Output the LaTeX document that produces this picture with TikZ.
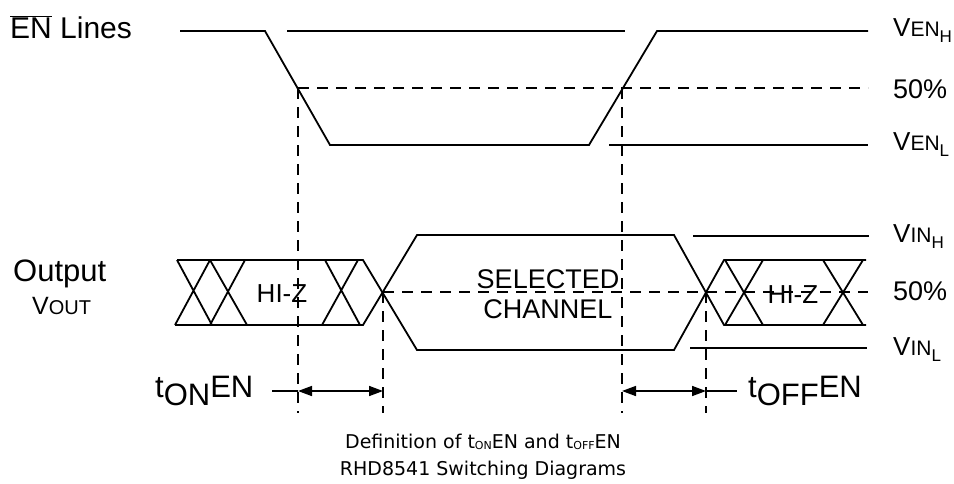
\documentclass[tikz,border=0pt]{standalone}
\usepackage{fontspec}
\setmainfont{Liberation Sans}
\newfontfamily\capfont{DejaVu Sans}
\usetikzlibrary{arrows.meta}
\newcommand\szf[1]{\fontsize{#1}{#1}\selectfont}
\newcommand\vlab[3]{{\szf{26}#1}{\szf{21}#2}\raisebox{-6pt}{\szf{17}#3}}
\begin{document}
\begin{tikzpicture}[x=1pt,y=-1pt,
  sig/.style={line width=1.8pt, line join=miter},
  dsh/.style={line width=1.3pt, dash pattern=on 11pt off 8pt},
  txt/.style={inner sep=0pt, anchor=base west},
  ctxt/.style={inner sep=0pt, anchor=base},
  tip/.style={line width=1.6pt, {Triangle[length=14pt,width=10pt]}-{Triangle[length=14pt,width=10pt]}}
]
\useasboundingbox (0,0) rectangle (954,483);

% ---- EN lines ----
\draw[sig] (180,31) -- (265,31) -- (330,145) -- (589,145) -- (657,31) -- (868,31);
\draw[sig] (287,31) -- (625,31);
\draw[sig] (609,145) -- (868,145);
\draw[dsh] (298,88) -- (868,88);

% ---- Output ----
\draw[sig] (177,260) -- (363,260) -- (417,350) -- (674,350) -- (724,260) -- (866,260);
\draw[sig] (175,325) -- (363,325) -- (417,235) -- (674,235) -- (724,325) -- (866,325);
\draw[sig] (177,260) -- (212,325) (175,325) -- (210,260)
           (210,260) -- (247,325) (210,325) -- (245,260)
           (325,260) -- (360,325) (322,325) -- (358,260);
\draw[sig] (725,260) -- (763,325) (725,325) -- (763,260)
           (823,260) -- (863,325) (823,325) -- (863,260);
\draw[sig] (693,236) -- (869,236);
\draw[sig] (690,348) -- (867,348);
\draw[dsh] (383,292) -- (868,292);

% ---- verticals ----
\draw[dsh] (298,88) -- (298,413);
\draw[dsh] (622,88) -- (622,413);
\draw[dsh] (383,292) -- (383,413);
\draw[dsh] (706,292) -- (706,413);

% ---- timing arrows ----
\coordinate (a1) at (272,391);
\coordinate (a2) at (298,391);
\coordinate (a3) at (383,391);
\coordinate (b1) at (622,391);
\coordinate (b2) at (706,391);
\coordinate (b3) at (737,391);
\draw[line width=1.6pt] (a1) -- (a2);
\draw[tip] (a2) -- (a3);
\draw[tip] (b1) -- (b2);
\draw[line width=1.6pt] (b2) -- (b3);

% ---- labels ----
\node[txt] (enl) at (10,38) {\szf{30}$\overline{\mbox{EN}}$ Lines};
\node[txt] (out) at (13,281) {\szf{31}Output};
\node[txt] (vout) at (32,314) {{\szf{25}V}{\szf{20}OUT}};

\node[txt] (venh) at (893,36) {\vlab{V}{EN}{H}};
\node[txt] (p1) at (893,98) {\szf{27}50\%};
\node[txt] (venl) at (893,150) {\vlab{V}{EN}{L}};
\node[txt] (vinh) at (893,242) {\vlab{V}{IN}{H}};
\node[txt] (p2) at (893,300) {\szf{27}50\%};
\node[txt] (vinl) at (893,355) {\vlab{V}{IN}{L}};

\node[ctxt] (hz1) at (282,302) {\szf{26}HI-Z};
\node[ctxt] (hz2) at (793,303) {\szf{26}HI-Z};
\node[ctxt] (sel) at (548,288) {\szf{27}SELECTED};
\node[ctxt] (chn) at (548,318) {\szf{27}CHANNEL};

\node[txt] (ton) at (155,397) {\szf{31}t\raisebox{-8pt}{ON}EN};
\node[txt] (toff) at (748,397) {\szf{31}t\raisebox{-8pt}{OFF}EN};

\node[ctxt] (cap1) at (483,448) {\capfont\szf{19}Definition of t\raisebox{-1.5pt}{\szf{11}ON}EN and t\raisebox{-1.5pt}{\szf{11}OFF}EN};
\node[ctxt] (cap2) at (483,475) {\capfont\szf{19}RHD8541 Switching Diagrams};
\end{tikzpicture}
\end{document}
